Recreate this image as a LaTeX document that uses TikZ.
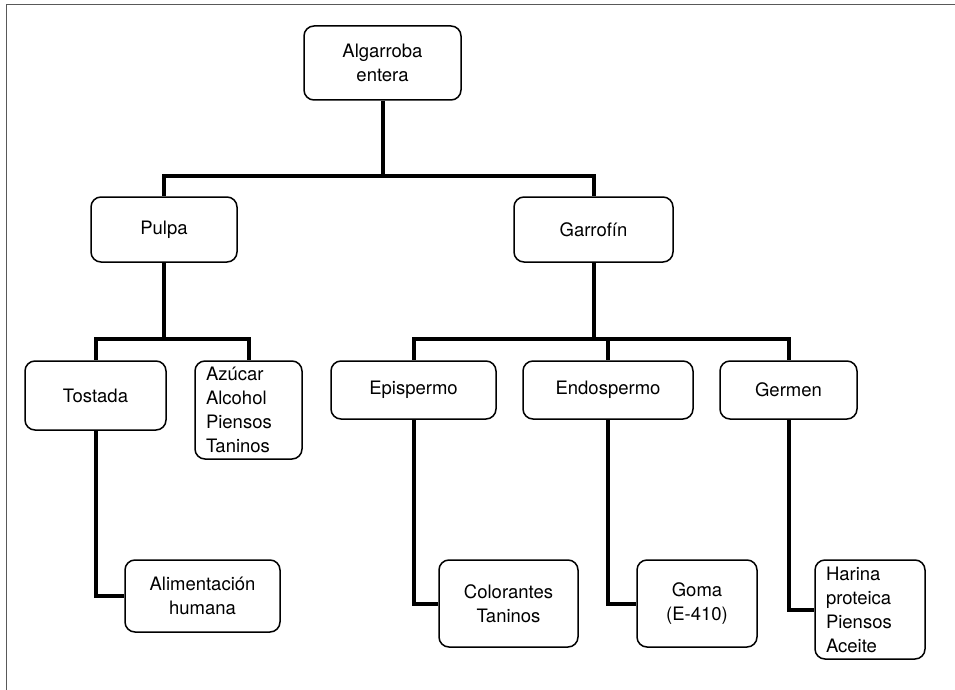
\documentclass[tikz,border=0pt]{standalone}
\usepackage{fontspec}
\setmainfont{TeX Gyre Heros}
\begin{document}
\begin{tikzpicture}[x=1pt, y=-1pt,
  caja/.style={draw, rounded corners=10pt, line width=1.5pt, align=center, inner sep=0pt,
    font=\fontsize{18.5}{24}\selectfont},
  lista/.style={caja, align=left, inner xsep=11pt},
  rama/.style={line width=4pt}]
\useasboundingbox (0,0) rectangle (955,690);
% Frame
\draw[black!65, line width=1pt] (6,690) -- (6,5) -- (955,5);

% Boxes
\node[caja, minimum width=157pt, minimum height=74pt] (raiz) at (382.5,63) {Algarroba\\entera};
\node[caja, minimum width=146pt, minimum height=65pt] (pulpa) at (164,229.5) {Pulpa};
\node[caja, minimum width=159pt, minimum height=65pt] (garrofin) at (593.5,229.5) {Garrofín};

\node[caja, minimum width=141pt, minimum height=69pt] (tostada) at (95.5,395.5) {Tostada};
\node[lista, text width=85pt, minimum height=98pt] (azucar) at (248.5,410) {Azúcar\\Alcohol\\Piensos\\Taninos};
\node[caja, minimum width=165pt, minimum height=58pt] (epispermo) at (413.5,390) {Epispermo};
\node[caja, minimum width=170pt, minimum height=58pt] (endospermo) at (608,390) {Endospermo};
\node[caja, minimum width=137pt, minimum height=58pt] (germen) at (788.5,390) {Germen};

\node[caja, minimum width=155pt, minimum height=72pt] (alimentacion) at (202.5,596) {Alimentación\\humana};
\node[caja, minimum width=139pt, minimum height=87pt] (colorantes) at (508.5,603.5) {Colorantes\\Taninos};
\node[caja, minimum width=120pt, minimum height=87pt] (goma) at (697,603.5) {Goma\\(E-410)};
\node[lista, text width=88pt, minimum height=99pt] (harina) at (870,609.5) {Harina\\proteica\\Piensos\\Aceite};

% Branches
\draw[rama] (raiz.south) -- ++(0,75) coordinate (b1);
\draw[rama] (b1) -| (pulpa.north);
\draw[rama] (b1) -| (garrofin.north);

\draw[rama] (pulpa.south) -- ++(0,76) coordinate (b2);
\draw[rama] (b2) -| (tostada.north);
\draw[rama] (b2) -| (azucar.north);

\draw[rama] (garrofin.south) -- ++(0,76) coordinate (b3);
\draw[rama] (b3) -| (epispermo.north);
\draw[rama] (b3) -| (endospermo.north);
\draw[rama] (b3) -| (germen.north);

\draw[rama] (tostada.south) |- (alimentacion.west);
\draw[rama] (epispermo.south) |- (colorantes.west);
\draw[rama] (endospermo.south) |- (goma.west);
\draw[rama] (germen.south) |- (harina.west);
\end{tikzpicture}
\end{document}
